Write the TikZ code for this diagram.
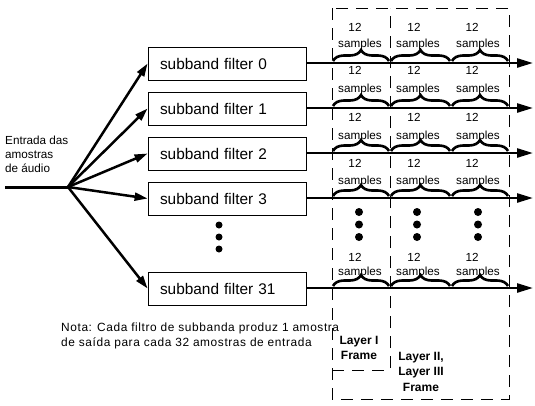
\documentclass[tikz,border=0pt]{standalone}
\usepackage{fontspec}
\setmainfont{Liberation Sans}
\newfontfamily\notefont[LetterSpace=5]{Liberation Sans}
\usetikzlibrary{arrows.meta,decorations.pathreplacing}
\begin{document}
\begin{tikzpicture}[x=1pt,y=-1pt,
 box/.style={draw, line width=0.8pt, text width=134pt, inner xsep=12pt, inner ysep=0pt, minimum height=33pt, align=left, font=\fontsize{15.4}{18}\selectfont},
 fanarrow/.style={line width=2.5pt, -{Triangle[length=13pt,width=8pt]}},
 axis/.style={line width=2.5pt, -{Triangle[length=16pt,width=9pt]}},
 brc/.style={decorate, decoration={brace, amplitude=11pt}, line width=2.6pt},
 small/.style={font=\fontsize{11.7}{14}\selectfont, inner sep=0pt},
 note/.style={font=\notefont\fontsize{11.9}{14.5}\selectfont, inner sep=0pt, align=left},
 bold/.style={font=\fontsize{12}{15.5}\selectfont\bfseries, inner sep=0pt, align=center},
 frame/.style={dash pattern=on 12pt off 8pt, line width=1pt},
 dot/.style={circle, fill, inner sep=0pt, minimum size=8pt}
]
\useasboundingbox (0,0) rectangle (535,405);

% frames
\draw[frame] (332,8) rectangle (509,399);
\draw[frame] (332,370) -- (390,370) -- (390,8);

% input
\node[small, align=left, anchor=north west] (inlabel) at (5,136) {Entrada das\\amostras\\de áudio};
\coordinate (in) at (5,187);
\coordinate (fan) at (68,187);
\draw[line width=3pt] (in) -- (fan);

% boxes
\node[box] (f0) at (227,63.5) {subband filter 0};
\node[box] (f1) at (227,108.5) {subband filter 1};
\node[box] (f2) at (227,153.5) {subband filter 2};
\node[box] (f3) at (227,198.5) {subband filter 3};
\node[box] (f31) at (227,288.5) {subband filter 31};

\foreach \n in {0,1,2,3,31}{
  \draw[fanarrow] (fan) -- (f\n.west);
}

% dots under filter 3
\node[dot, minimum size=7pt] (d1) at (219,225) {};
\node[dot, minimum size=7pt] (d2) at (219,237) {};
\node[dot, minimum size=7pt] (d3) at (219,249) {};

% axes, braces and labels
\foreach \n/\r/\a/\b in {0/63/36/19,1/108/38/19,2/153/36/17,3/198/35/17,31/288/31/16}{
  \coordinate (e\n) at (533,\r);
  \draw[axis] (f\n.east |- 0,\r) -- (e\n);
  \foreach \xa/\xb/\tx/\sx in {332/390/355/360,390/451/414/418,451/509/472/478}{
    \coordinate (bl) at (\xa+1,\r-2);
    \coordinate (br) at (\xb-1,\r-2);
    \draw[brc] (bl) -- (br);
    \node[small] (t\n\xa) at (\tx,\r-\a) {12};
    \node[small] (s\n\xa) at (\sx,\r-\b) {samples};
  }
}

% column dots
\foreach \x in {359,417,478}{
  \node[dot] at (\x,212) {};
  \node[dot] at (\x,224.5) {};
  \node[dot] at (\x,237) {};
}

% note
\node[note, anchor=north west] (nota) at (61,323) {Nota: Cada filtro de subbanda produz 1 amostra\\de saída para cada 32 amostras de entrada};

% layer labels
\node[bold] (l1) at (359,348) {Layer I\\Frame};
\node[bold] (l2) at (421,371.5) {Layer II,\\Layer III\\Frame};
\end{tikzpicture}
\end{document}
